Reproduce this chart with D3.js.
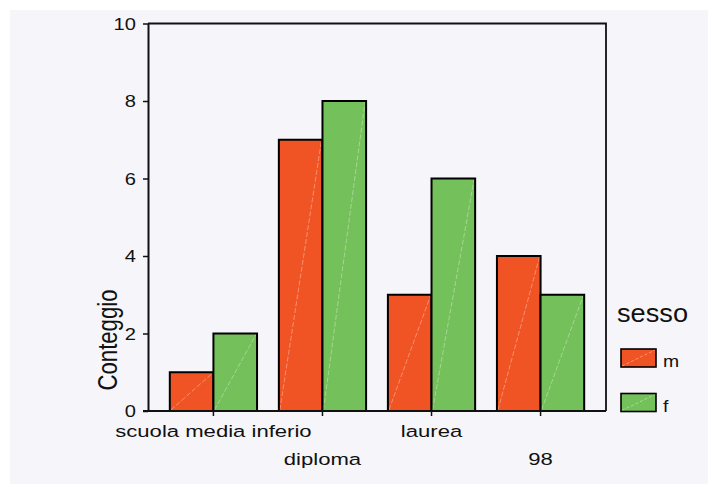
<!DOCTYPE html>
<html>
<head>
<meta charset="utf-8">
<script src="https://cdn.jsdelivr.net/npm/d3@7"></script>
<style>
  html, body { margin: 0; padding: 0; background: #ffffff; }
  svg { display: block; }
  text { font-family: "Liberation Sans", Arial, sans-serif; fill: #111; }
</style>
</head>
<body>
<svg id="chart" width="708" height="484"></svg>
<script>
// Education level counts split by sex
const categories = ["scuola media inferio", "diploma", "laurea", "98"];
const seriesKeys = ["m", "f"];
const valuesM = [1, 7, 3, 4];
const valuesF = [2, 8, 6, 3];
const yTicks = [0, 2, 4, 6, 8, 10];
const colors = { m: "#f05424", f: "#74c05a" };

const rows = categories.map((c, i) => ({ cat: c, m: valuesM[i], f: valuesF[i] }));

const svg = d3.select("#chart");
const W = 708, H = 484;
const plot = { left: 148, right: 606, top: 23.5, bottom: 411 };

// panel background
svg.append("rect").attr("x", 10).attr("y", 10).attr("width", W - 10).attr("height", H - 10)
  .attr("fill", "#f6f6fa");

const x = d3.scaleBand().domain(categories).range([plot.left, plot.right])
  .paddingInner(0.2).paddingOuter(0.2);
const xs = d3.scaleBand().domain(seriesKeys).range([0, x.bandwidth()]);
const y = d3.scaleLinear().domain([0, 10]).range([plot.bottom, plot.top]);

// bars
const groups = svg.append("g").selectAll("g").data(rows).join("g")
  .attr("transform", d => `translate(${x(d.cat)},0)`);

const bars = groups.selectAll("g.bar")
  .data(d => seriesKeys.map(k => ({ key: k, value: d[k] })))
  .join("g").attr("class", "bar");

bars.append("rect")
  .attr("x", d => xs(d.key))
  .attr("y", d => y(d.value))
  .attr("width", xs.bandwidth())
  .attr("height", d => y(0) - y(d.value))
  .attr("fill", d => colors[d.key]);

// faint diagonal hatch stroke across each bar
bars.append("line")
  .attr("x1", d => xs(d.key) + 1)
  .attr("y1", y(0) - 1)
  .attr("x2", d => xs(d.key) + xs.bandwidth() - 1)
  .attr("y2", d => y(d.value) + 1)
  .attr("stroke", "#ffffff").attr("stroke-opacity", 0.35)
  .attr("stroke-width", 1).attr("stroke-dasharray", "5,2");

bars.append("rect")
  .attr("x", d => xs(d.key))
  .attr("y", d => y(d.value))
  .attr("width", xs.bandwidth())
  .attr("height", d => y(0) - y(d.value))
  .attr("fill", "none").attr("stroke", "#000").attr("stroke-width", 2);

// frame: top and right edges
svg.append("path")
  .attr("d", `M${plot.left},${plot.top}H${plot.right}V${plot.bottom}`)
  .attr("fill", "none").attr("stroke", "#111").attr("stroke-width", 1.8);

// y axis
const yAxis = svg.append("g").attr("transform", `translate(${plot.left},0)`)
  .call(d3.axisLeft(y).tickValues(yTicks).tickSize(5).tickSizeOuter(0).tickFormat(d3.format("d")));
yAxis.select(".domain").attr("stroke", "#111").attr("stroke-width", 2);
yAxis.selectAll(".tick line").attr("stroke", "#111").attr("stroke-width", 1.5);
yAxis.selectAll(".tick text")
  .attr("font-size", 16.5).attr("fill", "#111")
  .attr("font-family", "\"Liberation Sans\", Arial, sans-serif")
  .attr("x", -12 / 1.22).attr("dy", "0.36em")
  .attr("transform", "scale(1.22,1)");

// x axis
const xAxis = svg.append("g").attr("transform", `translate(0,${plot.bottom})`)
  .call(d3.axisBottom(x).tickSize(5).tickSizeOuter(0).tickFormat(""));
xAxis.select(".domain").attr("d", `M${plot.left - 5},0H${plot.right}`)
  .attr("stroke", "#111").attr("stroke-width", 2);
xAxis.selectAll(".tick line").attr("stroke", "#111").attr("stroke-width", 1.5);

// staggered category labels
svg.append("g").selectAll("text").data(categories).join("text")
  .attr("transform", (d, i) =>
    `translate(${x(d) + x.bandwidth() / 2},${i % 2 === 0 ? 437 : 465}) scale(1.3,1)`)
  .attr("text-anchor", "middle").attr("font-size", 17)
  .text(d => d);

// y axis title
svg.append("text")
  .attr("transform", "translate(116.5,340) rotate(-90)")
  .attr("text-anchor", "middle").attr("font-size", 27.5)
  .attr("textLength", 101).attr("lengthAdjust", "spacingAndGlyphs")
  .text("Conteggio");

// legend
const legend = svg.append("g");
legend.append("text").attr("x", 617).attr("y", 322)
  .attr("font-size", 25).attr("textLength", 71).attr("lengthAdjust", "spacingAndGlyphs")
  .text("sesso");

const legendItems = legend.selectAll("g.item").data(seriesKeys).join("g")
  .attr("class", "item")
  .attr("transform", (d, i) => `translate(621,${349 + i * 44.5})`);
legendItems.append("rect").attr("width", 35).attr("height", 18)
  .attr("fill", d => colors[d]);
legendItems.append("line")
  .attr("x1", 1).attr("y1", 17).attr("x2", 34).attr("y2", 1)
  .attr("stroke", "#fff").attr("stroke-opacity", 0.4).attr("stroke-dasharray", "3,2");
legendItems.append("rect").attr("width", 35).attr("height", 18)
  .attr("fill", "none").attr("stroke", "#000").attr("stroke-width", 1.6);
legendItems.append("text")
  .attr("transform", "translate(42,18) scale(1.14,1)")
  .attr("font-size", 17)
  .text(d => d);
</script>
</body>
</html>
